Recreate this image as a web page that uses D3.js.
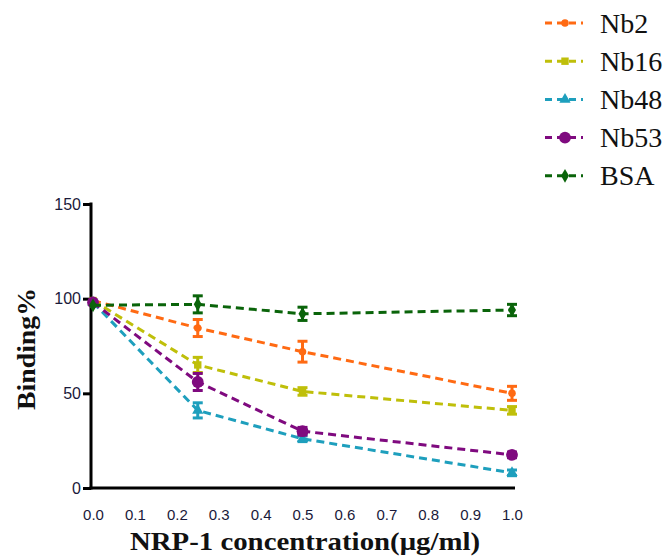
<!DOCTYPE html>
<html>
<head>
<meta charset="utf-8">
<script src="https://cdn.jsdelivr.net/npm/d3@7"></script>
<style>
  body { margin: 0; background: #fff; }
</style>
</head>
<body>
<div id="chart"></div>
<script>
// concentrations and series values
const concentrations = [0, 0.25, 0.5, 1.0];
const nb2 = [99, 84.5, 72, 50];
const nb2Err = [0, 4.5, 5.5, 3.7];
const nb16 = [99, 65, 51, 41];
const nb16Err = [0, 4, 2, 2];
const nb48 = [98, 41, 26, 8];
const nb48Err = [0, 4, 1.5, 1.5];
const nb53 = [98, 56, 30, 17.5];
const nb53Err = [0, 4.5, 2, 1.5];
const bsa = [96.5, 97, 92, 94];
const bsaErr = [0, 4.5, 3.5, 3];
const seriesNames = ["Nb2", "Nb16", "Nb48", "Nb53", "BSA"];
const xTicks = [0, 0.1, 0.2, 0.3, 0.4, 0.5, 0.6, 0.7, 0.8, 0.9, 1.0];
const yTicks = [0, 50, 100, 150];

const colors = ["#ff6a13", "#bfbf0a", "#1e9fbd", "#7f0a7f", "#0a640a"];
const symbols = [d3.symbolCircle, d3.symbolSquare, d3.symbolTriangle, d3.symbolCircle, d3.symbolDiamond];
const symSizes = [45, 55, 55, 110, 55];

const series = [
  { name: seriesNames[0], values: nb2, err: nb2Err },
  { name: seriesNames[1], values: nb16, err: nb16Err },
  { name: seriesNames[2], values: nb48, err: nb48Err },
  { name: seriesNames[3], values: nb53, err: nb53Err },
  { name: seriesNames[4], values: bsa, err: bsaErr }
];

const W = 667, H = 558;
const svg = d3.select("#chart").append("svg")
  .attr("width", W).attr("height", H);

const x = d3.scaleLinear().domain([0, 1]).range([93, 512]);
const y = d3.scaleLinear().domain([0, 150]).range([488, 204]);

// y axis
const yAxis = svg.append("g")
  .attr("transform", "translate(91,0)")
  .call(d3.axisLeft(y).tickValues(yTicks).tickSize(8).tickPadding(2));
yAxis.select(".domain").attr("stroke", "#000").attr("stroke-width", 3)
  .attr("d", "M0," + (y(150) - 1.5) + "V" + (y(0) + 1.5));
yAxis.selectAll(".tick line").attr("stroke", "#000").attr("stroke-width", 3);
yAxis.selectAll(".tick text")
  .style("font-family", "Arial, 'Liberation Sans', sans-serif")
  .style("font-size", "16px").attr("fill", "#1a1a3a");

// x axis
const xAxis = svg.append("g")
  .attr("transform", "translate(0,488)")
  .call(d3.axisBottom(x).tickValues(xTicks).tickSize(0).tickPadding(21).tickFormat(d3.format(".1f")));
xAxis.select(".domain").attr("stroke", "#000").attr("stroke-width", 3)
  .attr("d", "M89.5,0H515");
xAxis.selectAll(".tick text")
  .style("font-family", "Arial, 'Liberation Sans', sans-serif")
  .style("font-size", "15px").attr("fill", "#1a1a3a");

// axis titles
svg.append("text")
  .attr("x", 305).attr("y", 550)
  .attr("text-anchor", "middle")
  .attr("textLength", 350).attr("lengthAdjust", "spacingAndGlyphs")
  .style("font-family", "'Liberation Serif', 'Times New Roman', serif")
  .style("font-weight", "bold").style("font-size", "25px")
  .attr("fill", "#111")
  .text("NRP-1 concentration(μg/ml)");

svg.append("text")
  .attr("transform", "translate(35,349) rotate(-90)")
  .attr("text-anchor", "middle")
  .attr("textLength", 122).attr("lengthAdjust", "spacingAndGlyphs")
  .style("font-family", "'Liberation Serif', 'Times New Roman', serif")
  .style("font-weight", "bold").style("font-size", "26px")
  .attr("fill", "#111")
  .text("Binding%");

const line = d3.line()
  .x((d, i) => x(concentrations[i]))
  .y(d => y(d));

series.forEach((s, k) => {
  const g = svg.append("g");
  g.append("path")
    .datum(s.values)
    .attr("d", line)
    .attr("fill", "none")
    .attr("stroke", colors[k])
    .attr("stroke-width", 3)
    .attr("stroke-dasharray", "8,5");

  // error bars
  s.values.forEach((v, i) => {
    if (s.err[i] <= 0) return;
    const cx = x(concentrations[i]);
    const top = y(v + s.err[i]), bot = y(v - s.err[i]);
    g.append("line").attr("x1", cx).attr("x2", cx).attr("y1", top).attr("y2", bot)
      .attr("stroke", colors[k]).attr("stroke-width", 3);
    [top, bot].forEach(yy => {
      g.append("line").attr("x1", cx - 5).attr("x2", cx + 5).attr("y1", yy).attr("y2", yy)
        .attr("stroke", colors[k]).attr("stroke-width", 3);
    });
  });

  // markers
  g.selectAll("path.mark")
    .data(s.values)
    .enter().append("path")
    .attr("class", "mark")
    .attr("transform", (d, i) => "translate(" + x(concentrations[i]) + "," + y(d) + ")")
    .attr("d", d3.symbol().type(symbols[k]).size(symSizes[k]))
    .attr("fill", colors[k]);
});

// legend
const legend = svg.append("g");
series.forEach((s, k) => {
  const ly = 23 + k * 38.2;
  legend.append("line")
    .attr("x1", 545).attr("x2", 583).attr("y1", ly).attr("y2", ly)
    .attr("stroke", colors[k]).attr("stroke-width", 3)
    .attr("stroke-dasharray", "7,5");
  legend.append("path")
    .attr("transform", "translate(565," + ly + ")")
    .attr("d", d3.symbol().type(symbols[k]).size(symSizes[k]))
    .attr("fill", colors[k]);
  legend.append("text")
    .attr("x", 600).attr("y", ly + 9.5)
    .style("font-family", "'Liberation Serif', 'Times New Roman', serif")
    .style("font-size", "28px").attr("fill", "#111")
    .text(s.name);
});
</script>
</body>
</html>
